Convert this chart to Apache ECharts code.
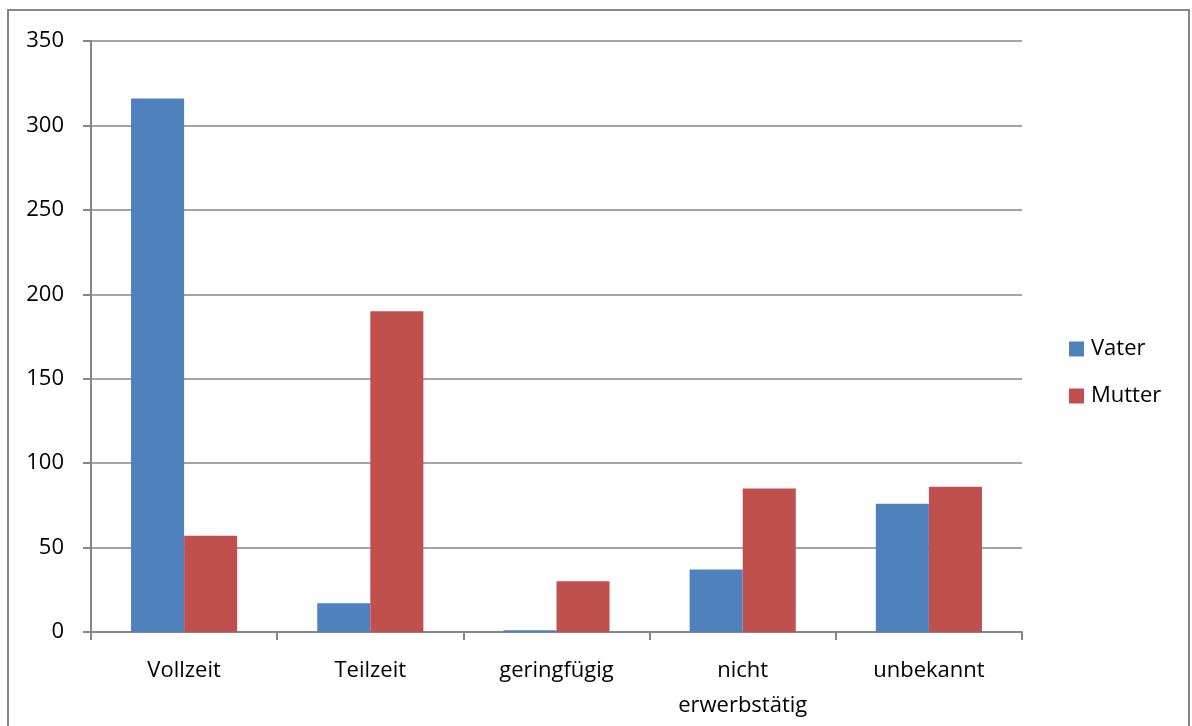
<!DOCTYPE html>
<html>
<head>
<meta charset="utf-8">
<script src="https://cdn.jsdelivr.net/npm/echarts@6/dist/echarts.min.js"></script>
<style>
  html, body { margin: 0; padding: 0; background: #fff; }
  #chart { width: 1192px; height: 726px; }
</style>
</head>
<body>
<div id="chart"></div>
<script>
// Erwerbsstatus der Eltern
const categories = ['Vollzeit', 'Teilzeit', 'geringfügig', 'nicht\nerwerbstätig', 'unbekannt'];
const vater = [316, 17, 1, 37, 76];
const mutter = [57, 190, 30, 85, 86];
const yTicks = { min: 0, max: 350, interval: 50 };

const FONT = '"Open Sans", "Liberation Sans", sans-serif';
const GRAY = '#868686';

const chart = echarts.init(document.getElementById('chart'), null, { renderer: 'canvas' });
chart.setOption({
  animation: false,
  backgroundColor: '#fff',
  textStyle: { fontFamily: FONT },
  graphic: [{
    type: 'rect',
    shape: { x: 8, y: 10, width: 1181, height: 730 },
    style: { fill: 'none', stroke: GRAY, lineWidth: 2 },
    silent: true
  }],
  grid: { left: 91, right: 170, top: 41, bottom: 94, containLabel: false },
  legend: {
    orient: 'vertical',
    left: 1064,
    top: 333,
    itemWidth: 15,
    itemHeight: 15,
    itemGap: 25,
    icon: 'rect',
    textStyle: { fontFamily: FONT, fontSize: 22, color: '#000', padding: [0, 0, 0, 2] },
    data: ['Vater', 'Mutter']
  },
  xAxis: {
    type: 'category',
    data: categories,
    axisLine: { lineStyle: { color: GRAY, width: 2 } },
    axisTick: { show: true, length: 8, alignWithLabel: false, lineStyle: { color: GRAY, width: 2 } },
    axisLabel: { color: '#000', fontSize: 22, fontFamily: FONT, margin: 21, lineHeight: 35, interval: 0 }
  },
  yAxis: {
    type: 'value',
    min: yTicks.min,
    max: yTicks.max,
    interval: yTicks.interval,
    axisLine: { show: true, lineStyle: { color: GRAY, width: 2 } },
    axisTick: { show: true, length: 8, lineStyle: { color: GRAY, width: 2 } },
    axisLabel: { color: '#000', fontSize: 22, fontFamily: FONT, margin: 27, padding: [0, 0, 5, 0] },
    splitLine: { show: true, lineStyle: { color: GRAY, width: 1.5 } }
  },
  series: [
    {
      name: 'Vater',
      type: 'bar',
      data: vater,
      barGap: '0%',
      barCategoryGap: '43%',
      itemStyle: { color: '#4F81BD' }
    },
    {
      name: 'Mutter',
      type: 'bar',
      data: mutter,
      itemStyle: { color: '#C0504D' }
    }
  ]
});
</script>
</body>
</html>
